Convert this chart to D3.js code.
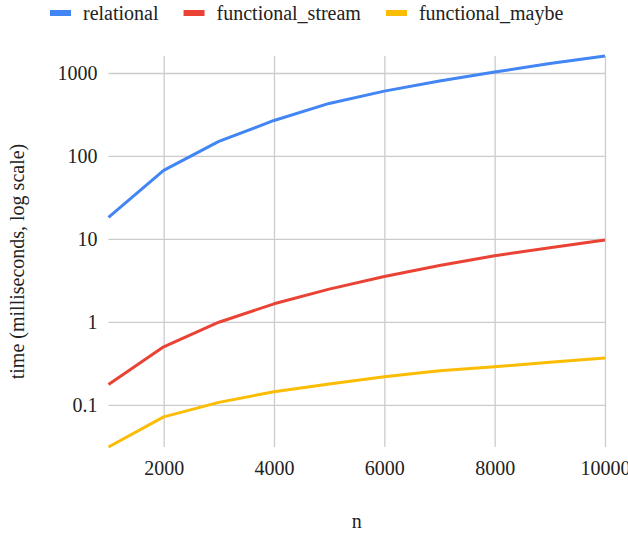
<!DOCTYPE html>
<html>
<head>
<meta charset="utf-8">
<script src="https://cdn.jsdelivr.net/npm/d3@7"></script>
<style>
  body { margin: 0; background: #fff; overflow: hidden; }
  svg text { font-family: "Times New Roman", "Liberation Serif", "DejaVu Serif", serif !important; }
</style>
</head>
<body>
<div id="chart"></div>
<script>
// data
const nValues = [1000, 2000, 3000, 4000, 5000, 6000, 7000, 8000, 9000, 10000];
const relational = [18.2, 67, 150, 268, 430, 605, 800, 1028, 1300, 1604];
const functionalStream = [0.176, 0.50, 0.99, 1.65, 2.48, 3.52, 4.78, 6.27, 7.83, 9.7];
const functionalMaybe = [0.031, 0.0716, 0.107, 0.144, 0.178, 0.218, 0.258, 0.288, 0.325, 0.366];
const seriesNames = ["relational", "functional_stream", "functional_maybe"];
const seriesColors = ["#4285F4", "#EA4335", "#FBBC04"];
const xTicks = [2000, 4000, 6000, 8000, 10000];
const yTicks = [0.1, 1, 10, 100, 1000];

const width = 628, height = 533;
const margin = { top: 56, right: 23, bottom: 86, left: 108.5 };
const fontSize = "20px";

const svg = d3.select("#chart").append("svg")
  .attr("width", width)
  .attr("height", height);

const series = [relational, functionalStream, functionalMaybe];

const x = d3.scaleLinear()
  .domain(d3.extent(nValues))
  .range([margin.left, width - margin.right]);

const y = d3.scaleLog()
  .domain(d3.extent(series.flat()))
  .range([height - margin.bottom, margin.top]);

// horizontal grid + y labels
const yAxis = svg.append("g")
  .attr("transform", "translate(" + margin.left + ",0)")
  .call(d3.axisLeft(y)
    .tickValues(yTicks)
    .tickFormat(d => String(d))
    .tickSize(-(width - margin.right - margin.left))
    .tickPadding(11));
yAxis.select(".domain").remove();
yAxis.selectAll("line").attr("stroke", "#cccccc").attr("stroke-width", 1.3);
yAxis.selectAll("text")
  .attr("fill", "#222")
  .style("font-size", fontSize);

// vertical grid + x labels
const xAxis = svg.append("g")
  .attr("transform", "translate(0," + (height - margin.bottom) + ")")
  .call(d3.axisBottom(x)
    .tickValues(xTicks)
    .tickFormat(d3.format("d"))
    .tickSize(-(height - margin.bottom - margin.top))
    .tickPadding(14));
xAxis.select(".domain").remove();
xAxis.selectAll("line").attr("stroke", "#cccccc").attr("stroke-width", 1.3);
xAxis.selectAll("text")
  .attr("fill", "#222")
  .style("font-size", fontSize);

// lines
const line = d3.line()
  .x((d, i) => x(nValues[i]))
  .y(d => y(d));

svg.selectAll(".series")
  .data(series)
  .enter()
  .append("path")
  .attr("class", "series")
  .attr("fill", "none")
  .attr("stroke", (d, i) => seriesColors[i])
  .attr("stroke-width", 3)
  .attr("stroke-linejoin", "round")
  .attr("d", line);

// axis titles
svg.append("text")
  .attr("x", (margin.left + width - margin.right) / 2)
  .attr("y", 528)
  .attr("text-anchor", "middle")
  .attr("fill", "#222")
  .style("font-size", fontSize)
  .text("n");

svg.append("text")
  .attr("transform", "translate(24," + ((margin.top + height - margin.bottom) / 2 + 10) + ") rotate(-90)")
  .attr("text-anchor", "middle")
  .attr("fill", "#222")
  .style("font-size", fontSize)
  .text("time (milliseconds, log scale)");

// legend
const legend = svg.append("g").attr("class", "legend");
let lx = 50;
seriesNames.forEach(function(name, i) {
  legend.append("rect")
    .attr("x", lx)
    .attr("y", 10)
    .attr("width", 21)
    .attr("height", 6)
    .attr("fill", seriesColors[i]);
  const t = legend.append("text")
    .attr("x", lx + 33)
    .attr("y", 20)
    .attr("fill", "#222")
    .style("font-size", fontSize)
    .text(name);
  lx = lx + 33 + t.node().getComputedTextLength() + 25;
});
</script>
</body>
</html>
